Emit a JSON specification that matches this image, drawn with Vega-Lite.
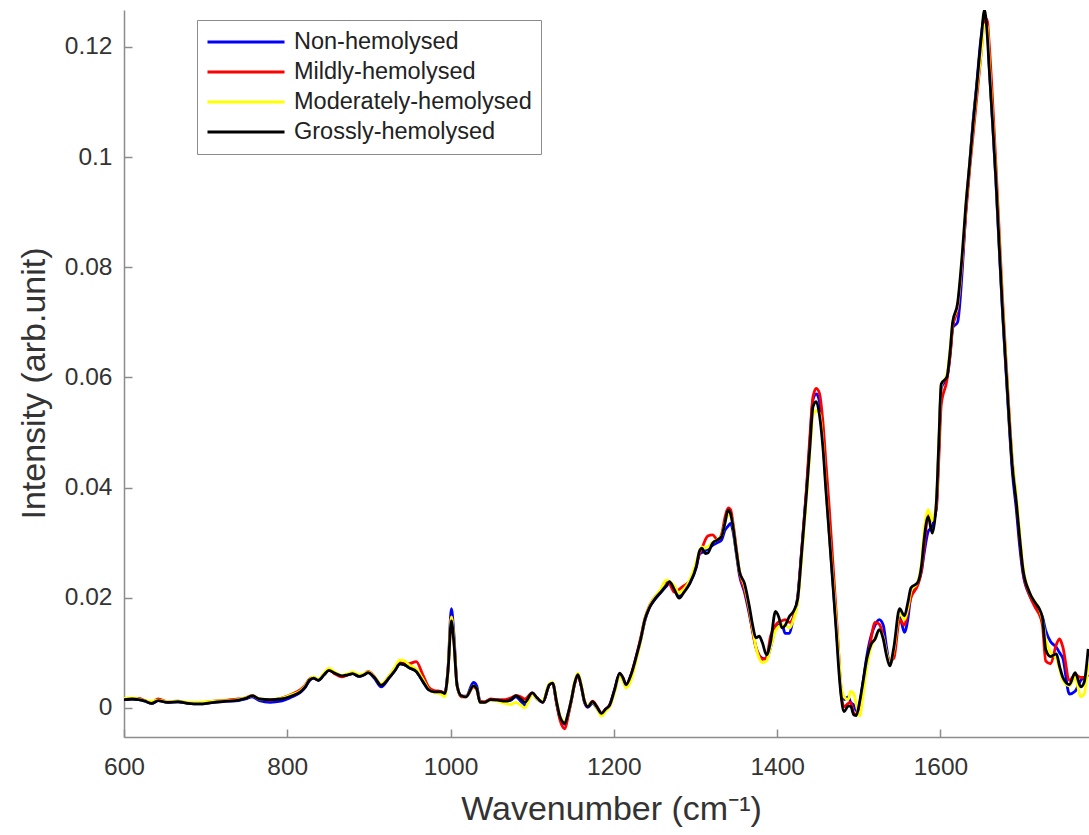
{
  "$schema": "https://vega.github.io/schema/vega-lite/v6.json",
  "width": 965,
  "height": 727,
  "autosize": {"type": "none"},
  "padding": {"left": 124, "top": 10, "right": 0, "bottom": 98},
  "background": "white",
  "config": {
    "view": {"stroke": null},
    "font": "Liberation Sans",
    "axis": {"grid": false, "labelFlush": false, "labelOverlap": false, "domainColor": "#8c8c8c", "domainWidth": 1.5, "tickColor": "#8c8c8c", "tickWidth": 1.5, "labelColor": "#333333", "titleColor": "#333333", "labelFont": "Liberation Sans", "titleFont": "Liberation Sans", "titleFontWeight": "normal"}
  },
  "data": {"values": [
    {"w":600,"n":0.0015,"m":0.0016,"d":0.0017,"g":0.0015},
    {"w":610,"n":0.0016,"m":0.0017,"d":0.0018,"g":0.0016},
    {"w":618,"n":0.0015,"m":0.0017,"d":0.0016,"g":0.0015},
    {"w":626,"n":0.0012,"m":0.0013,"d":0.0013,"g":0.0012},
    {"w":634,"n":0.0008,"m":0.0010,"d":0.0012,"g":0.0008},
    {"w":642,"n":0.0013,"m":0.0016,"d":0.0014,"g":0.0013},
    {"w":653,"n":0.0010,"m":0.0011,"d":0.0011,"g":0.0010},
    {"w":666,"n":0.0011,"m":0.0012,"d":0.0012,"g":0.0011},
    {"w":679,"n":0.0008,"m":0.0009,"d":0.0010,"g":0.0008},
    {"w":692,"n":0.0007,"m":0.0009,"d":0.0010,"g":0.0007},
    {"w":710,"n":0.0010,"m":0.0012,"d":0.0012,"g":0.0010},
    {"w":727,"n":0.0012,"m":0.0014,"d":0.0013,"g":0.0012},
    {"w":740,"n":0.0013,"m":0.0016,"d":0.0015,"g":0.0014},
    {"w":749,"n":0.0016,"m":0.0018,"d":0.0018,"g":0.0017},
    {"w":757,"n":0.0020,"m":0.0022,"d":0.0022,"g":0.0022},
    {"w":766,"n":0.0013,"m":0.0016,"d":0.0016,"g":0.0016},
    {"w":779,"n":0.0010,"m":0.0014,"d":0.0015,"g":0.0015},
    {"w":792,"n":0.0012,"m":0.0017,"d":0.0017,"g":0.0016},
    {"w":806,"n":0.0020,"m":0.0025,"d":0.0024,"g":0.0022},
    {"w":816,"n":0.0028,"m":0.0033,"d":0.0031,"g":0.0029},
    {"w":822,"n":0.0037,"m":0.0041,"d":0.0040,"g":0.0038},
    {"w":827,"n":0.0049,"m":0.0052,"d":0.0051,"g":0.0050},
    {"w":832,"n":0.0054,"m":0.0055,"d":0.0056,"g":0.0054},
    {"w":838,"n":0.0050,"m":0.0051,"d":0.0052,"g":0.0050},
    {"w":845,"n":0.0060,"m":0.0061,"d":0.0063,"g":0.0060},
    {"w":851,"n":0.0068,"m":0.0069,"d":0.0072,"g":0.0068},
    {"w":858,"n":0.0063,"m":0.0062,"d":0.0065,"g":0.0063},
    {"w":867,"n":0.0058,"m":0.0056,"d":0.0059,"g":0.0058},
    {"w":874,"n":0.0060,"m":0.0060,"d":0.0062,"g":0.0060},
    {"w":880,"n":0.0062,"m":0.0063,"d":0.0065,"g":0.0062},
    {"w":888,"n":0.0057,"m":0.0058,"d":0.0060,"g":0.0057},
    {"w":894,"n":0.0060,"m":0.0061,"d":0.0062,"g":0.0060},
    {"w":899,"n":0.0064,"m":0.0066,"d":0.0065,"g":0.0064},
    {"w":907,"n":0.0053,"m":0.0056,"d":0.0056,"g":0.0055},
    {"w":915,"n":0.0038,"m":0.0042,"d":0.0043,"g":0.0041},
    {"w":925,"n":0.0055,"m":0.0058,"d":0.0058,"g":0.0055},
    {"w":932,"n":0.0068,"m":0.0072,"d":0.0074,"g":0.0068},
    {"w":938,"n":0.0080,"m":0.0082,"d":0.0087,"g":0.0080},
    {"w":944,"n":0.0078,"m":0.0080,"d":0.0085,"g":0.0078},
    {"w":949,"n":0.0073,"m":0.0080,"d":0.0078,"g":0.0073},
    {"w":958,"n":0.0066,"m":0.0084,"d":0.0070,"g":0.0066},
    {"w":966,"n":0.0048,"m":0.0060,"d":0.0052,"g":0.0048},
    {"w":973,"n":0.0033,"m":0.0038,"d":0.0034,"g":0.0033},
    {"w":980,"n":0.0029,"m":0.0031,"d":0.0028,"g":0.0029},
    {"w":988,"n":0.0029,"m":0.0030,"d":0.0025,"g":0.0029},
    {"w":993,"n":0.0026,"m":0.0026,"d":0.0020,"g":0.0026},
    {"w":997,"n":0.0075,"m":0.0070,"d":0.0070,"g":0.0070},
    {"w":1001,"n":0.0180,"m":0.0165,"d":0.0165,"g":0.0158},
    {"w":1004,"n":0.0135,"m":0.0125,"d":0.0125,"g":0.0120},
    {"w":1008,"n":0.0042,"m":0.0040,"d":0.0040,"g":0.0040},
    {"w":1013,"n":0.0022,"m":0.0020,"d":0.0022,"g":0.0022},
    {"w":1019,"n":0.0021,"m":0.0020,"d":0.0020,"g":0.0020},
    {"w":1028,"n":0.0046,"m":0.0038,"d":0.0040,"g":0.0040},
    {"w":1032,"n":0.0040,"m":0.0033,"d":0.0035,"g":0.0035},
    {"w":1036,"n":0.0012,"m":0.0012,"d":0.0010,"g":0.0010},
    {"w":1042,"n":0.0010,"m":0.0011,"d":0.0010,"g":0.0010},
    {"w":1049,"n":0.0015,"m":0.0016,"d":0.0014,"g":0.0015},
    {"w":1058,"n":0.0014,"m":0.0015,"d":0.0012,"g":0.0014},
    {"w":1067,"n":0.0012,"m":0.0015,"d":0.0008,"g":0.0012},
    {"w":1074,"n":0.0014,"m":0.0018,"d":0.0006,"g":0.0015},
    {"w":1080,"n":0.0020,"m":0.0022,"d":0.0010,"g":0.0022},
    {"w":1086,"n":0.0012,"m":0.0020,"d":0.0005,"g":0.0016},
    {"w":1091,"n":0.0005,"m":0.0016,"d":0.0000,"g":0.0010},
    {"w":1100,"n":0.0025,"m":0.0027,"d":0.0024,"g":0.0027},
    {"w":1106,"n":0.0016,"m":0.0018,"d":0.0016,"g":0.0018},
    {"w":1113,"n":0.0010,"m":0.0010,"d":0.0012,"g":0.0010},
    {"w":1121,"n":0.0042,"m":0.0042,"d":0.0044,"g":0.0042},
    {"w":1125,"n":0.0045,"m":0.0045,"d":0.0046,"g":0.0045},
    {"w":1130,"n":0.0008,"m":0.0006,"d":0.0012,"g":0.0010},
    {"w":1134,"n":-0.0018,"m":-0.0022,"d":-0.0014,"g":-0.0016},
    {"w":1140,"n":-0.0030,"m":-0.0038,"d":-0.0026,"g":-0.0028},
    {"w":1144,"n":-0.0011,"m":-0.0015,"d":-0.0010,"g":-0.0010},
    {"w":1148,"n":0.0015,"m":0.0013,"d":0.0016,"g":0.0015},
    {"w":1152,"n":0.0045,"m":0.0043,"d":0.0047,"g":0.0045},
    {"w":1156,"n":0.0060,"m":0.0058,"d":0.0063,"g":0.0060},
    {"w":1160,"n":0.0040,"m":0.0040,"d":0.0043,"g":0.0040},
    {"w":1164,"n":0.0010,"m":0.0012,"d":0.0013,"g":0.0012},
    {"w":1168,"n":0.0001,"m":0.0003,"d":0.0004,"g":0.0002},
    {"w":1174,"n":0.0008,"m":0.0012,"d":0.0010,"g":0.0011},
    {"w":1179,"n":0.0000,"m":0.0003,"d":0.0000,"g":0.0002},
    {"w":1185,"n":-0.0012,"m":-0.0010,"d":-0.0015,"g":-0.0010},
    {"w":1190,"n":-0.0004,"m":-0.0002,"d":-0.0006,"g":-0.0002},
    {"w":1195,"n":0.0006,"m":0.0005,"d":0.0002,"g":0.0005},
    {"w":1201,"n":0.0034,"m":0.0032,"d":0.0028,"g":0.0033},
    {"w":1207,"n":0.0060,"m":0.0062,"d":0.0058,"g":0.0063},
    {"w":1211,"n":0.0052,"m":0.0055,"d":0.0050,"g":0.0055},
    {"w":1215,"n":0.0038,"m":0.0042,"d":0.0036,"g":0.0042},
    {"w":1221,"n":0.0058,"m":0.0060,"d":0.0050,"g":0.0060},
    {"w":1228,"n":0.0095,"m":0.0097,"d":0.0090,"g":0.0096},
    {"w":1233,"n":0.0124,"m":0.0128,"d":0.0122,"g":0.0125},
    {"w":1238,"n":0.0158,"m":0.0162,"d":0.0160,"g":0.0160},
    {"w":1243,"n":0.0180,"m":0.0183,"d":0.0182,"g":0.0180},
    {"w":1248,"n":0.0192,"m":0.0196,"d":0.0196,"g":0.0193},
    {"w":1258,"n":0.0210,"m":0.0215,"d":0.0216,"g":0.0211},
    {"w":1264,"n":0.0220,"m":0.0230,"d":0.0232,"g":0.0222},
    {"w":1268,"n":0.0226,"m":0.0226,"d":0.0230,"g":0.0229},
    {"w":1274,"n":0.0218,"m":0.0210,"d":0.0222,"g":0.0215},
    {"w":1280,"n":0.0203,"m":0.0215,"d":0.0208,"g":0.0199},
    {"w":1286,"n":0.0212,"m":0.0222,"d":0.0216,"g":0.0210},
    {"w":1293,"n":0.0226,"m":0.0230,"d":0.0232,"g":0.0226},
    {"w":1301,"n":0.0255,"m":0.0260,"d":0.0265,"g":0.0257},
    {"w":1305,"n":0.0280,"m":0.0280,"d":0.0285,"g":0.0285},
    {"w":1308,"n":0.0282,"m":0.0290,"d":0.0292,"g":0.0290},
    {"w":1312,"n":0.0285,"m":0.0305,"d":0.0290,"g":0.0280},
    {"w":1315,"n":0.0288,"m":0.0312,"d":0.0292,"g":0.0281},
    {"w":1321,"n":0.0295,"m":0.0314,"d":0.0300,"g":0.0299},
    {"w":1327,"n":0.0300,"m":0.0305,"d":0.0306,"g":0.0305},
    {"w":1332,"n":0.0305,"m":0.0315,"d":0.0312,"g":0.0311},
    {"w":1336,"n":0.0322,"m":0.0345,"d":0.0335,"g":0.0335},
    {"w":1340,"n":0.0330,"m":0.0363,"d":0.0350,"g":0.0359},
    {"w":1343,"n":0.0335,"m":0.0360,"d":0.0350,"g":0.0352},
    {"w":1346,"n":0.0320,"m":0.0335,"d":0.0330,"g":0.0329},
    {"w":1350,"n":0.0280,"m":0.0290,"d":0.0285,"g":0.0285},
    {"w":1354,"n":0.0240,"m":0.0245,"d":0.0248,"g":0.0247},
    {"w":1360,"n":0.0210,"m":0.0215,"d":0.0222,"g":0.0226},
    {"w":1366,"n":0.0170,"m":0.0175,"d":0.0180,"g":0.0184},
    {"w":1370,"n":0.0140,"m":0.0138,"d":0.0145,"g":0.0150},
    {"w":1374,"n":0.0110,"m":0.0110,"d":0.0110,"g":0.0127},
    {"w":1378,"n":0.0095,"m":0.0095,"d":0.0090,"g":0.0130},
    {"w":1382,"n":0.0090,"m":0.0088,"d":0.0082,"g":0.0118},
    {"w":1387,"n":0.0088,"m":0.0092,"d":0.0085,"g":0.0096},
    {"w":1392,"n":0.0110,"m":0.0130,"d":0.0110,"g":0.0120},
    {"w":1398,"n":0.0145,"m":0.0150,"d":0.0140,"g":0.0175},
    {"w":1402,"n":0.0150,"m":0.0156,"d":0.0148,"g":0.0165},
    {"w":1406,"n":0.0150,"m":0.0158,"d":0.0150,"g":0.0145},
    {"w":1410,"n":0.0135,"m":0.0160,"d":0.0150,"g":0.0150},
    {"w":1415,"n":0.0135,"m":0.0155,"d":0.0145,"g":0.0166},
    {"w":1420,"n":0.0165,"m":0.0165,"d":0.0160,"g":0.0175},
    {"w":1425,"n":0.0200,"m":0.0195,"d":0.0190,"g":0.0196},
    {"w":1430,"n":0.0285,"m":0.0285,"d":0.0270,"g":0.0280},
    {"w":1436,"n":0.0395,"m":0.0400,"d":0.0380,"g":0.0390},
    {"w":1440,"n":0.0480,"m":0.0490,"d":0.0460,"g":0.0470},
    {"w":1444,"n":0.0560,"m":0.0565,"d":0.0530,"g":0.0547},
    {"w":1448,"n":0.0570,"m":0.0580,"d":0.0540,"g":0.0556},
    {"w":1452,"n":0.0555,"m":0.0570,"d":0.0535,"g":0.0530},
    {"w":1456,"n":0.0490,"m":0.0520,"d":0.0480,"g":0.0474},
    {"w":1460,"n":0.0400,"m":0.0440,"d":0.0395,"g":0.0390},
    {"w":1464,"n":0.0315,"m":0.0360,"d":0.0315,"g":0.0311},
    {"w":1468,"n":0.0235,"m":0.0270,"d":0.0240,"g":0.0230},
    {"w":1472,"n":0.0155,"m":0.0180,"d":0.0165,"g":0.0148},
    {"w":1476,"n":0.0075,"m":0.0085,"d":0.0085,"g":0.0060},
    {"w":1478,"n":0.0040,"m":0.0030,"d":0.0045,"g":0.0027},
    {"w":1482,"n":0.0015,"m":0.0002,"d":0.0020,"g":-0.0007},
    {"w":1487,"n":0.0020,"m":0.0008,"d":0.0015,"g":0.0003},
    {"w":1490,"n":0.0010,"m":0.0010,"d":0.0030,"g":0.0003},
    {"w":1494,"n":0.0005,"m":-0.0010,"d":0.0025,"g":-0.0013},
    {"w":1497,"n":-0.0005,"m":-0.0012,"d":0.0005,"g":-0.0014},
    {"w":1501,"n":0.0005,"m":0.0005,"d":-0.0015,"g":0.0010},
    {"w":1505,"n":0.0045,"m":0.0040,"d":0.0020,"g":0.0045},
    {"w":1510,"n":0.0095,"m":0.0080,"d":0.0075,"g":0.0090},
    {"w":1515,"n":0.0130,"m":0.0125,"d":0.0110,"g":0.0115},
    {"w":1520,"n":0.0150,"m":0.0155,"d":0.0125,"g":0.0125},
    {"w":1525,"n":0.0160,"m":0.0152,"d":0.0140,"g":0.0142},
    {"w":1530,"n":0.0150,"m":0.0130,"d":0.0128,"g":0.0125},
    {"w":1534,"n":0.0110,"m":0.0100,"d":0.0100,"g":0.0095},
    {"w":1538,"n":0.0080,"m":0.0085,"d":0.0080,"g":0.0076},
    {"w":1543,"n":0.0100,"m":0.0090,"d":0.0105,"g":0.0110},
    {"w":1550,"n":0.0165,"m":0.0160,"d":0.0172,"g":0.0180},
    {"w":1556,"n":0.0137,"m":0.0150,"d":0.0160,"g":0.0167},
    {"w":1560,"n":0.0160,"m":0.0175,"d":0.0180,"g":0.0190},
    {"w":1564,"n":0.0205,"m":0.0200,"d":0.0212,"g":0.0218},
    {"w":1572,"n":0.0225,"m":0.0222,"d":0.0228,"g":0.0227},
    {"w":1577,"n":0.0250,"m":0.0250,"d":0.0265,"g":0.0260},
    {"w":1580,"n":0.0280,"m":0.0290,"d":0.0320,"g":0.0305},
    {"w":1585,"n":0.0320,"m":0.0350,"d":0.0360,"g":0.0347},
    {"w":1590,"n":0.0330,"m":0.0340,"d":0.0340,"g":0.0317},
    {"w":1595,"n":0.0365,"m":0.0360,"d":0.0375,"g":0.0373},
    {"w":1598,"n":0.0470,"m":0.0450,"d":0.0480,"g":0.0480},
    {"w":1601,"n":0.0580,"m":0.0550,"d":0.0585,"g":0.0588},
    {"w":1608,"n":0.0600,"m":0.0595,"d":0.0605,"g":0.0601},
    {"w":1612,"n":0.0645,"m":0.0640,"d":0.0655,"g":0.0650},
    {"w":1615,"n":0.0690,"m":0.0690,"d":0.0700,"g":0.0700},
    {"w":1621,"n":0.0700,"m":0.0725,"d":0.0730,"g":0.0734},
    {"w":1627,"n":0.0800,"m":0.0815,"d":0.0825,"g":0.0829},
    {"w":1631,"n":0.0900,"m":0.0895,"d":0.0910,"g":0.0910},
    {"w":1636,"n":0.0990,"m":0.0980,"d":0.0990,"g":0.0992},
    {"w":1640,"n":0.1065,"m":0.1040,"d":0.1055,"g":0.1060},
    {"w":1644,"n":0.1125,"m":0.1100,"d":0.1115,"g":0.1121},
    {"w":1650,"n":0.1220,"m":0.1190,"d":0.1190,"g":0.1216},
    {"w":1654,"n":0.1255,"m":0.1250,"d":0.1240,"g":0.1267},
    {"w":1657,"n":0.1245,"m":0.1250,"d":0.1240,"g":0.1230},
    {"w":1660,"n":0.1160,"m":0.1200,"d":0.1170,"g":0.1155},
    {"w":1664,"n":0.1060,"m":0.1100,"d":0.1070,"g":0.1060},
    {"w":1668,"n":0.0955,"m":0.0985,"d":0.0965,"g":0.0958},
    {"w":1672,"n":0.0835,"m":0.0865,"d":0.0850,"g":0.0840},
    {"w":1676,"n":0.0720,"m":0.0745,"d":0.0735,"g":0.0725},
    {"w":1680,"n":0.0620,"m":0.0640,"d":0.0635,"g":0.0625},
    {"w":1684,"n":0.0520,"m":0.0540,"d":0.0535,"g":0.0528},
    {"w":1688,"n":0.0430,"m":0.0450,"d":0.0450,"g":0.0440},
    {"w":1693,"n":0.0360,"m":0.0375,"d":0.0385,"g":0.0373},
    {"w":1697,"n":0.0295,"m":0.0310,"d":0.0320,"g":0.0310},
    {"w":1701,"n":0.0245,"m":0.0250,"d":0.0260,"g":0.0253},
    {"w":1709,"n":0.0205,"m":0.0205,"d":0.0210,"g":0.0210},
    {"w":1717,"n":0.0185,"m":0.0180,"d":0.0190,"g":0.0189},
    {"w":1721,"n":0.0175,"m":0.0170,"d":0.0180,"g":0.0180},
    {"w":1725,"n":0.0165,"m":0.0150,"d":0.0160,"g":0.0163},
    {"w":1729,"n":0.0140,"m":0.0085,"d":0.0125,"g":0.0106},
    {"w":1735,"n":0.0120,"m":0.0080,"d":0.0100,"g":0.0093},
    {"w":1742,"n":0.0110,"m":0.0115,"d":0.0090,"g":0.0098},
    {"w":1746,"n":0.0100,"m":0.0125,"d":0.0070,"g":0.0075},
    {"w":1750,"n":0.0090,"m":0.0110,"d":0.0050,"g":0.0055},
    {"w":1758,"n":0.0025,"m":0.0050,"d":0.0040,"g":0.0042},
    {"w":1765,"n":0.0030,"m":0.0060,"d":0.0055,"g":0.0064},
    {"w":1772,"n":0.0050,"m":0.0055,"d":0.0020,"g":0.0038},
    {"w":1776,"n":0.0055,"m":0.0055,"d":0.0025,"g":0.0046},
    {"w":1781,"n":0.0060,"m":0.0060,"d":0.0080,"g":0.0107}
  ]},
  "transform": [{"fold": ["n", "m", "d", "g"], "as": ["s", "v"]}],
  "mark": {"type": "line", "strokeWidth": 2.8, "interpolate": "monotone", "clip": true},
  "encoding": {
    "x": {
      "field": "w", "type": "quantitative",
      "scale": {"domain": [600, 1782], "nice": false, "zero": false},
      "axis": {"values": [600, 800, 1000, 1200, 1400, 1600], "format": "d", "tickSize": -8, "labelPadding": 26, "labelFontSize": 24.5, "title": "Wavenumber (cm⁻¹)", "titleFontSize": 34, "titleBaseline": "alphabetic", "titleX": 487, "titleY": 82}
    },
    "y": {
      "field": "v", "type": "quantitative",
      "scale": {"domain": [-0.0053, 0.1267], "nice": false, "zero": false},
      "axis": {"values": [0, 0.02, 0.04, 0.06, 0.08, 0.1, 0.12], "format": "~g", "tickSize": -8, "labelPadding": 20, "labelFontSize": 24.5, "title": "Intensity (arb.unit)", "titleFontSize": 34, "titleBaseline": "alphabetic", "titleAngle": -90, "titleX": -80, "titleY": 373}
    },
    "color": {
      "field": "s", "type": "nominal",
      "scale": {"domain": ["n", "m", "d", "g"], "range": ["#0000ff", "#ff0000", "#ffff00", "#000000"]},
      "legend": {
        "title": null, "orient": "none", "legendX": 73, "legendY": 10,
        "labelExpr": "{'n': 'Non-hemolysed', 'm': 'Mildly-hemolysed', 'd': 'Moderately-hemolysed', 'g': 'Grossly-hemolysed'}[datum.label]",
        "symbolType": "stroke", "symbolSize": 5929, "symbolStrokeWidth": 3, "clipHeight": 26,
        "labelFontSize": 23.5, "labelColor": "#222222", "labelOffset": 8, "labelFont": "Liberation Sans", "labelLimit": 0,
        "rowPadding": 4, "padding": 9, "strokeColor": "#8c8c8c", "fillColor": "white"
      }
    }
  }
}
